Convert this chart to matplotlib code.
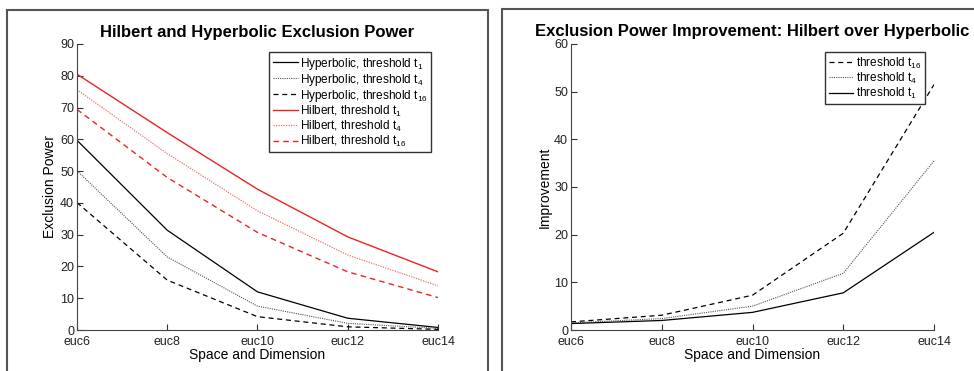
import matplotlib.pyplot as plt
from matplotlib.patches import Rectangle

plt.rcParams['font.family'] = ['Liberation Sans', 'DejaVu Sans']
plt.rcParams['mathtext.fontset'] = 'custom'
plt.rcParams['mathtext.rm'] = 'Liberation Sans'

spaces = ["euc6", "euc8", "euc10", "euc12", "euc14"]

# exclusion power (%)
hyp_t1 = [59.7, 31.4, 12.0, 3.7, 0.8]
hyp_t4 = [50.1, 23.0, 7.5, 2.1, 0.5]
hyp_t16 = [40.1, 15.7, 4.2, 1.0, 0.2]
hil_t1 = [80.5, 62.1, 44.3, 29.3, 18.3]
hil_t4 = [75.6, 55.5, 37.5, 23.6, 13.9]
hil_t16 = [69.4, 48.0, 30.7, 18.3, 10.2]

# improvement ratios
imp_t16 = [1.7, 3.1, 7.3, 20.3, 51.5]
imp_t4 = [1.5, 2.4, 5.0, 11.9, 35.5]
imp_t1 = [1.35, 2.0, 3.7, 7.8, 20.5]

x = range(len(spaces))

fig = plt.figure(figsize=(9.74, 3.71), dpi=100)

# panel frames
fig.patches.append(Rectangle((0.0072, -0.02), 0.494, 0.993, transform=fig.transFigure,
                             fill=False, edgecolor='#555555', linewidth=1.5))
fig.patches.append(Rectangle((0.5154, -0.02), 0.49, 0.9957, transform=fig.transFigure,
                             fill=False, edgecolor='#555555', linewidth=1.5))

ax1 = fig.add_axes([0.079, 0.1105, 0.3707, 0.771])
ax2 = fig.add_axes([0.5862, 0.1105, 0.3728, 0.771])


def sub(s):
    return r'$_\mathregular{' + s + '}$'


leg_kw = dict(loc='upper right', fontsize=8.5, handlelength=2.1, handletextpad=0.2,
              labelspacing=0.0, borderpad=0.3, borderaxespad=0, fancybox=False,
              edgecolor='#333333', framealpha=1)

ax1.plot(x, hyp_t1, color='black', lw=0.9, label='Hyperbolic, threshold t' + sub('1'))
ax1.plot(x, hyp_t4, color='#555555', lw=0.8, ls=(0, (1, 1)), label='Hyperbolic, threshold t' + sub('4'))
ax1.plot(x, hyp_t16, color='black', lw=0.9, ls=(0, (4, 3)), label='Hyperbolic, threshold t' + sub('16'))
ax1.plot(x, hil_t1, color='#ee2222', lw=1.0, label='Hilbert, threshold t' + sub('1'))
ax1.plot(x, hil_t4, color='#f07070', lw=0.9, ls=(0, (1, 1)), label='Hilbert, threshold t' + sub('4'))
ax1.plot(x, hil_t16, color='#ee2222', lw=1.0, ls=(0, (4, 3)), label='Hilbert, threshold t' + sub('16'))

ax1.set_ylim(0, 90)
ax1.set_yticks(range(0, 91, 10))
ax1.set_title('Hilbert and Hyperbolic Exclusion Power', fontsize=12, fontweight='bold', pad=5)
ax1.set_ylabel('Exclusion Power', fontsize=10, labelpad=2)
ax1.legend(bbox_to_anchor=(0.981, 0.972), **leg_kw)

ax2.plot(x, imp_t16, color='black', lw=0.9, ls=(0, (4, 3)), label='threshold t' + sub('16'))
ax2.plot(x, imp_t4, color='#555555', lw=0.8, ls=(0, (1, 1)), label='threshold t' + sub('4'))
ax2.plot(x, imp_t1, color='black', lw=0.9, label='threshold t' + sub('1'))

ax2.set_ylim(0, 60)
ax2.set_yticks(range(0, 61, 10))
ax2.set_title('Exclusion Power Improvement: Hilbert over Hyperbolic', fontsize=12,
              fontweight='bold', pad=6)
ax2.set_ylabel('Improvement', fontsize=10, labelpad=2)
ax2.legend(bbox_to_anchor=(0.975, 0.972), **leg_kw)

for ax in (ax1, ax2):
    ax.set_xlim(0, len(spaces) - 1)
    ax.set_xticks(list(x))
    ax.set_xticklabels(spaces)
    ax.set_xlabel('Space and Dimension', fontsize=10, labelpad=0)
    ax.spines['top'].set_visible(False)
    ax.spines['right'].set_visible(False)
    ax.spines['left'].set_color('#444444')
    ax.spines['bottom'].set_color('#444444')
    ax.tick_params(direction='in', length=4, labelsize=9, colors='#333333',
                   labelcolor='#222222')
    ax.tick_params(axis='x', pad=4)
    ax.tick_params(axis='y', pad=2)

fig.savefig('out.png', dpi=100)
